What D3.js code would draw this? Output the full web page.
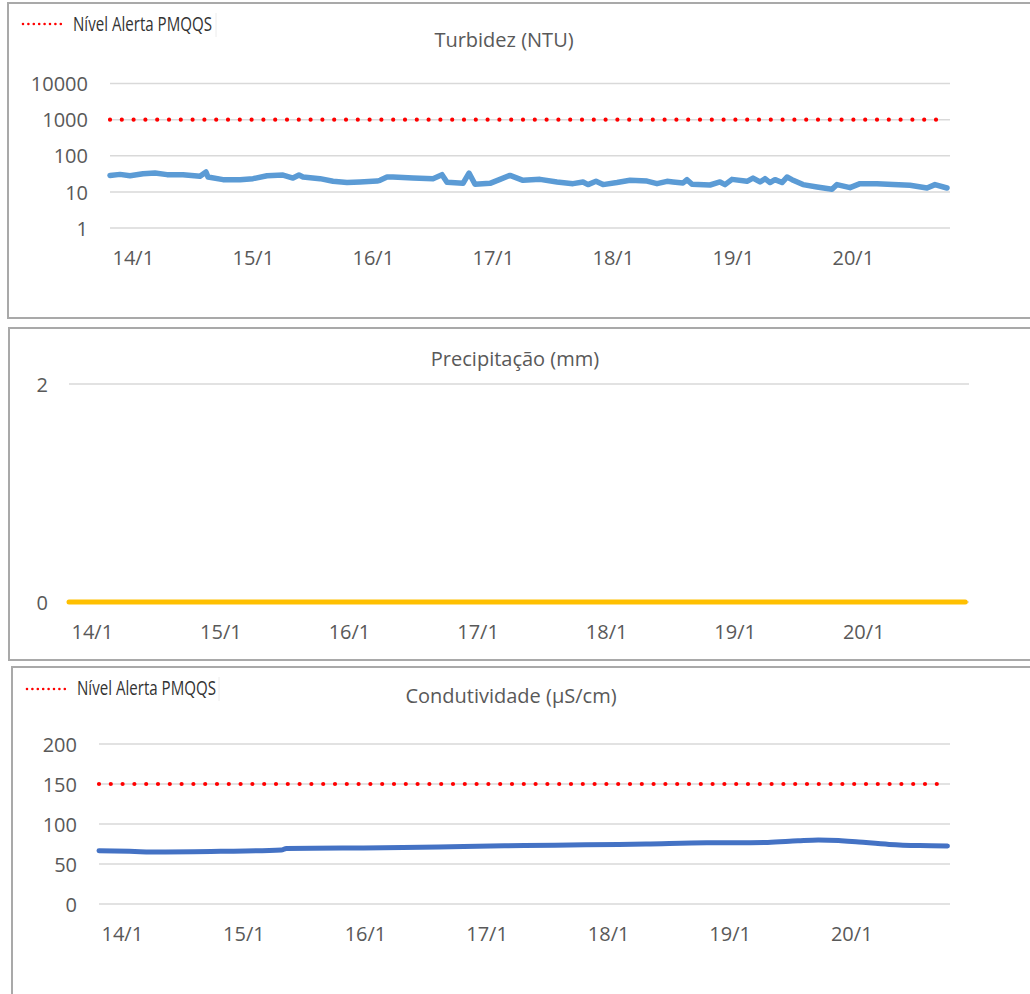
<!DOCTYPE html>
<html>
<head>
<meta charset="utf-8">
<script src="https://cdn.jsdelivr.net/npm/d3@7"></script>
<style>
  html, body { margin: 0; padding: 0; background: #fff; }
  svg { display: block; }
  text { font-family: "Open Sans", "DejaVu Sans", sans-serif; }
</style>
</head>
<body>
<svg id="chart" width="1030" height="994"></svg>
<script>
// ---- DATA ----
const dayLabels = ["14/1", "15/1", "16/1", "17/1", "18/1", "19/1", "20/1"];
const dayHours  = [0, 24, 48, 72, 96, 120, 144];

// Turbidez (NTU): [hours since 14/1 00:00, value]
const turbidez = [
  [0,28.6],[2,30.5],[4,28],[6.6,31.9],[9,33.2],[11.4,30],[14.6,30],[18,26.9],[19.2,35.5],[19.6,25.7],
  [22.6,21.8],[26,21.8],[28.6,23.2],[31.4,28],[34.6,29.2],[36.6,24.1],[37.8,29.2],[38.6,25.7],[42,23.2],
  [44.6,19.6],[47.4,18.1],[50,18.8],[53.4,19.9],[54,20.9],[55.4,25.7],[56.6,25.7],[60.6,24.1],[64.6,23.2],
  [66.4,30],[67.4,18.4],[70.6,17.2],[71.8,33.2],[73,16.2],[76,17.2],[78,22.2],[80,28.6],[82.6,20.9],
  [86,22.2],[89.4,18.8],[92.6,16.9],[94.6,18.8],[95.6,15.9],[97.2,19.6],[98.6,15.9],[101.4,18.1],
  [104,20.9],[107.4,19.9],[109.4,16.9],[111.4,19.6],[112.6,18.8],[114.6,17.6],[115.4,21.8],[116.4,16.2],
  [120,15.5],[122,18.8],[123,15.9],[124.4,22.2],[127.4,19.6],[128.6,24.1],[130,18.8],[131,23.2],[132,18.1],
  [133,21.8],[134.4,18.1],[135.4,25.7],[136.4,21.8],[138.6,15.9],[141.4,13.7],[144.4,11.8],[145.4,15.9],
  [148,13.1],[150,16.9],[153.4,16.9],[156.6,15.9],[160,15.2],[163.4,12.8],[165,15.9],[167.4,12.8]
];
const turbAlert = [[0,1000],[166,1000]];
const turbTicks = [1, 10, 100, 1000, 10000];

// Precipitação (mm)
const precipitacao = [[0,0],[24,0],[48,0],[72,0],[96,0],[120,0],[144,0],[167.3,0]];
const precTicks = [0, 2];

// Condutividade (µS/cm)
const condutividade = [
  [0,66.5],[6,65.8],[12,65],[24,65.8],[36,67.5],[37,69.5],[48,70],[60,70.5],[72,72],[84,73],
  [96,74],[108,75],[120,76.5],[126,76.5],[132,77],[138,79],[142,80],[146,79.5],[150,77.5],
  [156,74.5],[162,73],[167.5,72.5]
];
const condAlert = [[0,150],[166,150]];
const condTicks = [0, 50, 100, 150, 200];

const legendLabel = "Nível Alerta PMQQS";

// ---- DRAW ----
const svg = d3.select("#chart");
const TEXT = "#595959", GRID = "#d9d9d9", BORDER = "#a9a9a9";

function panel(cfg) {
  const g = svg.append("g");
  g.append("rect")
    .attr("x", cfg.box[0]).attr("y", cfg.box[1])
    .attr("width", cfg.box[2]).attr("height", cfg.box[3])
    .attr("fill", "none").attr("stroke", BORDER).attr("stroke-width", 2);

  const x = d3.scaleLinear().domain([0, 168]).range([cfg.x0, cfg.x1]);
  const y = cfg.log
    ? d3.scaleLog().domain(cfg.yDomain).range([cfg.yBottom, cfg.yTop])
    : d3.scaleLinear().domain(cfg.yDomain).range([cfg.yBottom, cfg.yTop]);

  g.append("g").selectAll("line").data(cfg.ticks).join("line")
    .attr("x1", cfg.x0).attr("x2", cfg.x1)
    .attr("y1", d => y(d)).attr("y2", d => y(d))
    .attr("stroke", GRID).attr("stroke-width", 1.5);

  const ya = g.append("g").attr("transform", `translate(${cfg.yLabelX},0)`)
    .call(d3.axisLeft(y).tickValues(cfg.ticks).tickSize(0).tickPadding(0)
      .tickFormat(d => String(d)));
  ya.select(".domain").remove();
  ya.selectAll("text").attr("fill", TEXT).style("font-size", "20px")
    .style("font-family", '"Open Sans", sans-serif').attr("dy", "0.36em");

  const xa = g.append("g").attr("transform", `translate(0,${cfg.yBottom})`)
    .call(d3.axisBottom(x).tickValues(dayHours).tickSize(0).tickPadding(0)
      .tickFormat((d, i) => dayLabels[i]));
  xa.select(".domain").remove();
  xa.selectAll("text").attr("fill", TEXT).style("font-size", "20px")
    .style("font-family", '"Open Sans", sans-serif')
    .attr("text-anchor", "start").attr("dx", 2).attr("y", 37).attr("dy", 0);

  g.append("text").attr("x", cfg.titleX).attr("y", cfg.titleY)
    .attr("text-anchor", "middle").attr("fill", TEXT).style("font-size", "20px")
    .text(cfg.title);

  const line = d3.line().x(d => x(d[0])).y(d => y(d[1]));

  if (cfg.alert) {
    g.append("path").datum(cfg.alert).attr("d", line)
      .attr("fill", "none").attr("stroke", "#ff0000").attr("stroke-width", 4.2)
      .attr("stroke-linecap", "round").attr("stroke-dasharray", "0 11.8");
  }

  const l2 = d3.line().x(d => x(d[0])).y(d => y(d[1])).curve(cfg.curve || d3.curveLinear);
  g.append("path").datum(cfg.data).attr("d", l2)
    .attr("fill", "none").attr("stroke", cfg.color).attr("stroke-width", cfg.width || 5)
    .attr("stroke-linecap", "round").attr("stroke-linejoin", "round");

  if (cfg.legend) {
    const [lx, ly, tx, ty, vx] = cfg.legend;
    g.append("line").attr("x1", lx).attr("x2", lx + 43).attr("y1", ly).attr("y2", ly)
      .attr("stroke", "#ff0000").attr("stroke-width", 2.6)
      .attr("stroke-linecap", "round").attr("stroke-dasharray", "0 5.4");
    g.append("text").attr("x", tx).attr("y", ty).attr("fill", "#333")
      .style("font-size", "19.5px")
      .attr("textLength", 139).attr("lengthAdjust", "spacingAndGlyphs")
      .text(legendLabel);
    g.append("line").attr("x1", vx).attr("x2", vx).attr("y1", ty - 18).attr("y2", ty + 6)
      .attr("stroke", "#ececec").attr("stroke-width", 1);
  }
}

panel({
  box: [8, 3, 1040, 315],
  x0: 110, x1: 950, yTop: 83.5, yBottom: 228, log: true, yDomain: [1, 10000],
  ticks: turbTicks, yLabelX: 88,
  title: "Turbidez (NTU)", titleX: 504, titleY: 47,
  data: turbidez, color: "#5b9bd5", alert: turbAlert, width: 5.5,
  legend: [23, 24, 73, 31, 216]
});

panel({
  box: [9, 328, 1040, 332],
  x0: 69, x1: 969, yTop: 384, yBottom: 602, log: false, yDomain: [0, 2],
  ticks: precTicks, yLabelX: 48,
  title: "Precipitação (mm)", titleX: 515, titleY: 366,
  data: precipitacao, color: "#ffc000"
});

panel({
  box: [12, 667, 1040, 340],
  x0: 99, x1: 950, yTop: 744, yBottom: 904, log: false, yDomain: [0, 200],
  ticks: condTicks, yLabelX: 77,
  title: "Condutividade (µS/cm)", titleX: 511, titleY: 703,
  data: condutividade, color: "#4472c4", alert: condAlert, curve: d3.curveMonotoneX,
  legend: [27, 689, 77, 695, 219]
});
</script>
</body>
</html>
